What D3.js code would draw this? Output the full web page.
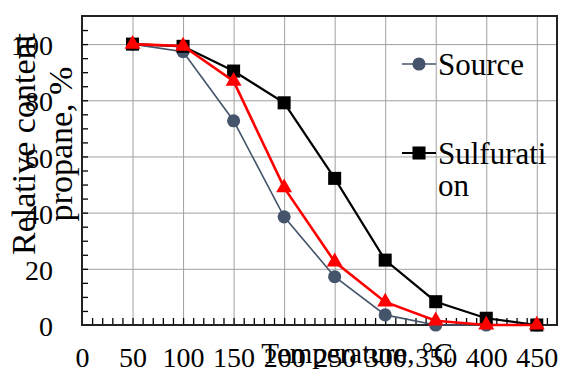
<!DOCTYPE html>
<html>
<head>
<meta charset="utf-8">
<script src="https://cdn.jsdelivr.net/npm/d3@7"></script>
<style>
  body { margin: 0; background: #fff; }
  svg text { font-family: "Liberation Serif", Tinos, "Times New Roman", serif; }
</style>
</head>
<body>
<div id="chart"></div>
<script>
// data
const temps = [50, 100, 150, 200, 250, 300, 350, 400, 450];
const source = [100, 97.3, 72.7, 38.5, 17.2, 3.6, 0, 0, 0];
const sulfuration = [100, 99.2, 90.4, 79.1, 52.2, 23.1, 8.3, 2.4, 0];
const third = [100, 99.3, 86.8, 48.9, 22.5, 8.2, 1.5, 0, 0];
const xTickLabels = [0, 50, 100, 150, 200, 250, 300, 350, 400, 450];
const yTickLabels = [0, 20, 40, 60, 80, 100];

const boxWidth = 561;
const boxHeight = 372;
const margin = { top: 16, right: 4, bottom: 47, left: 82 };
const graphWidth = boxWidth - margin.left - margin.right;
const graphHeight = boxHeight - margin.top - margin.bottom;
const fontFamily = 'Liberation Serif, Tinos, Times New Roman, serif';

const svg = d3.select('#chart')
  .append('svg')
  .attr('width', boxWidth)
  .attr('height', boxHeight)
  .attr('font-family', fontFamily);

const graph = svg.append('g')
  .attr('transform', `translate(${margin.left}, ${margin.top})`);

// scales
const xScale = d3.scaleLinear().domain([0, 470]).range([0, graphWidth]);
const yScale = d3.scaleLinear().domain([0, 110]).range([graphHeight, 0]);

// grid
graph.append('g')
  .attr('transform', `translate(0, ${graphHeight})`)
  .call(d3.axisBottom(xScale).tickValues(d3.range(50, 451, 50)).tickSize(-graphHeight).tickFormat(''))
  .call(g => g.select('.domain').remove())
  .selectAll('line').attr('stroke', '#a0a0a0').attr('stroke-width', 1);

graph.append('g')
  .call(d3.axisLeft(yScale).tickValues(d3.range(20, 101, 20)).tickSize(-graphWidth).tickFormat(''))
  .call(g => g.select('.domain').remove())
  .selectAll('line').attr('stroke', '#a0a0a0').attr('stroke-width', 1);

// minor ticks pointing inward
graph.append('g')
  .attr('transform', `translate(0, ${graphHeight})`)
  .call(d3.axisTop(xScale).tickValues(d3.range(10, 461, 10)).tickSize(7).tickFormat(''))
  .call(g => g.select('.domain').remove())
  .selectAll('line').attr('stroke', '#000').attr('stroke-width', 1.3);

graph.append('g')
  .call(d3.axisRight(yScale).tickValues(d3.range(5, 106, 5)).tickSize(6).tickFormat(''))
  .call(g => g.select('.domain').remove())
  .selectAll('line').attr('stroke', '#000').attr('stroke-width', 1.3);

// frame
graph.append('rect')
  .attr('width', graphWidth)
  .attr('height', graphHeight)
  .attr('fill', 'none')
  .attr('stroke', '#222')
  .attr('stroke-width', 2);

// tick labels
const xAxisGroup = graph.append('g')
  .attr('transform', `translate(0, ${graphHeight})`)
  .call(d3.axisBottom(xScale).tickValues(xTickLabels).tickSize(0).tickPadding(0));
xAxisGroup.attr('font-family', fontFamily).attr('font-size', 28);
xAxisGroup.select('.domain').remove();
xAxisGroup.selectAll('text')
  .attr('y', 42)
  .attr('dy', null);

const yAxisGroup = graph.append('g')
  .call(d3.axisLeft(yScale).tickValues(yTickLabels).tickSize(0).tickPadding(0));
yAxisGroup.attr('font-family', fontFamily).attr('font-size', 28);
yAxisGroup.select('.domain').remove();
yAxisGroup.selectAll('text')
  .attr('x', -29)
  .attr('dy', '0.38em');

// series
const seriesList = [
  { values: source, color: '#44546a', width: 1.6, symbol: d3.symbolCircle, size: 135 },
  { values: sulfuration, color: '#000000', width: 2.2, symbol: d3.symbolSquare, size: 170 },
  { values: third, color: '#ff0000', width: 2.6, symbol: d3.symbolTriangle, size: 110 }
];

const line = d3.line()
  .x((d, i) => xScale(temps[i]))
  .y(d => yScale(d));

seriesList.forEach(s => {
  graph.append('path')
    .datum(s.values)
    .attr('fill', 'none')
    .attr('stroke', s.color)
    .attr('stroke-width', s.width)
    .attr('d', line);

  graph.selectAll(null)
    .data(s.values)
    .enter()
    .append('path')
    .attr('d', d3.symbol().type(s.symbol).size(s.size))
    .attr('transform', (d, i) => `translate(${xScale(temps[i])}, ${yScale(d)})`)
    .attr('fill', s.color);
});

// legend (third series entry is cut off in the original)
const legend = svg.append('g');
const legendItems = [
  { label: ['Source'], color: '#44546a', symbol: d3.symbolCircle, size: 135, width: 1.6, y: 64 },
  { label: ['Sulfurati', 'on'], color: '#000000', symbol: d3.symbolSquare, size: 170, width: 2.2, y: 153 }
];
legendItems.forEach(it => {
  legend.append('line')
    .attr('x1', 402).attr('x2', 436)
    .attr('y1', it.y).attr('y2', it.y)
    .attr('stroke', it.color)
    .attr('stroke-width', it.width);
  legend.append('path')
    .attr('d', d3.symbol().type(it.symbol).size(it.size))
    .attr('transform', `translate(419, ${it.y})`)
    .attr('fill', it.color);
  const t = legend.append('text')
    .attr('x', 438)
    .attr('y', it.y + 11)
    .attr('font-size', 31);
  it.label.forEach((l, k) => {
    t.append('tspan').attr('x', 438).attr('dy', k === 0 ? 0 : 32).text(l);
  });
});

// axis titles
svg.append('text')
  .attr('x', 357)
  .attr('y', 363)
  .attr('text-anchor', 'middle')
  .attr('font-size', 29)
  .text('Temperature, °C');

const yTitle = svg.append('text')
  .attr('transform', 'translate(0, 144) rotate(-90)')
  .attr('text-anchor', 'middle')
  .attr('font-size', 34);
yTitle.append('tspan').attr('x', 0).attr('y', 35).text('Relative content');
yTitle.append('tspan').attr('x', 0).attr('y', 72).text('propane, %');

svg.selectAll('text')
  .attr('font-family', fontFamily)
  .attr('fill', '#000');
</script>
</body>
</html>
